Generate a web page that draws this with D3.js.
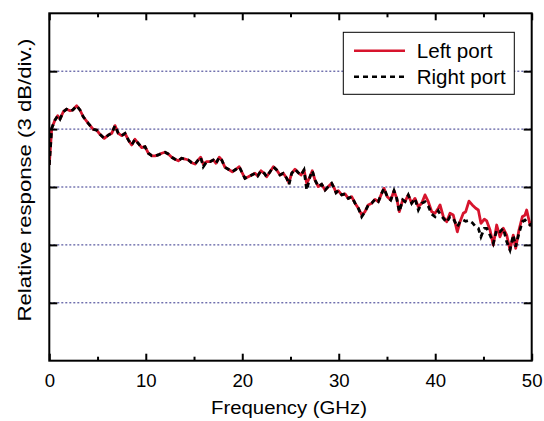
<!DOCTYPE html>
<html>
<head>
<meta charset="utf-8">
<script src="https://cdn.jsdelivr.net/npm/d3@7"></script>
<style>
  html, body { margin: 0; padding: 0; background: #fff; }
  svg { display: block; }
  text { font-family: "Liberation Sans", Arial, Helvetica, sans-serif; fill: #000; }
</style>
</head>
<body>
<svg id="chart" width="544" height="421"></svg>
<script>
// ---- data (frequency in GHz, response in dB) ----
const freq = [0.0,0.25,0.59,0.87,1.11,1.45,1.80,2.15,2.43,2.84,3.18,3.52,4.04,4.56,4.91,5.25,5.70,6.12,6.47,6.81,7.15,7.50,7.85,8.19,8.54,8.88,9.22,9.58,9.92,10.26,10.61,10.96,11.30,11.65,11.99,12.33,12.69,13.03,13.37,13.72,14.07,14.41,14.76,15.10,15.44,15.69,15.96,16.31,16.66,17.00,17.28,17.62,17.87,18.21,18.55,18.97,19.35,19.69,19.94,20.28,20.63,20.98,21.32,21.60,21.94,22.28,22.53,22.88,23.22,23.57,23.91,24.25,24.61,24.84,25.12,25.47,25.81,26.09,26.40,26.68,27.02,27.26,27.54,27.88,28.23,28.58,28.92,29.27,29.54,29.72,29.95,30.31,30.65,30.99,31.34,31.69,32.03,32.38,32.72,33.06,33.42,33.76,34.10,34.45,34.69,35.03,35.39,35.73,36.01,36.28,36.63,36.87,37.21,37.56,37.90,38.25,38.60,38.94,39.28,39.64,39.98,40.32,40.50,40.84,41.19,41.53,41.87,42.29,42.57,42.91,43.16,43.50,43.84,44.20,44.47,44.74,45.09,45.34,45.68,46.02,46.37,46.71,47.06,47.41,47.75,48.09,48.34,48.68,49.03,49.31,49.48,49.83,50.0];

const leftPort = [10.14,12.04,12.47,12.69,12.52,12.90,13.03,12.95,12.99,13.21,12.99,12.64,12.30,11.99,11.95,11.73,11.52,11.69,11.78,12.18,11.78,11.66,11.78,11.44,11.18,11.47,11.26,11.04,11.09,10.75,10.62,10.61,10.66,10.75,10.80,10.71,10.54,10.44,10.36,10.49,10.45,10.40,10.26,10.19,10.40,10.54,10.18,10.31,10.31,10.40,10.23,10.54,10.40,10.02,9.92,9.79,9.92,10.05,9.79,9.45,9.53,9.62,9.71,9.57,9.84,9.71,9.53,9.79,10.05,9.88,9.62,9.71,9.45,9.22,9.71,9.92,9.74,9.62,9.88,9.19,9.53,9.84,9.36,9.02,9.14,8.84,9.02,9.19,8.93,8.70,8.81,8.59,8.64,8.41,8.50,8.16,7.90,7.55,7.72,8.07,8.16,8.36,8.24,8.67,8.93,8.50,8.33,8.81,8.41,7.72,8.33,8.24,8.59,8.16,8.41,7.98,8.16,8.59,8.24,7.72,7.64,7.90,8.07,7.46,7.20,7.64,7.55,6.68,7.20,7.64,7.72,8.27,8.07,7.90,7.81,7.12,7.33,7.24,6.77,5.99,7.03,6.42,6.86,6.51,5.74,6.51,5.82,6.77,7.46,7.55,7.81,7.03,7.19];

const rightPort = [10.14,12.04,12.47,12.69,12.52,12.90,13.03,12.95,12.99,13.21,12.99,12.64,12.30,11.99,11.95,11.73,11.52,11.69,11.78,12.18,11.78,11.66,11.78,11.44,11.18,11.47,11.26,11.04,11.09,10.75,10.62,10.61,10.66,10.75,10.80,10.71,10.54,10.44,10.36,10.49,10.45,10.40,10.26,10.19,10.40,10.54,10.05,10.31,10.31,10.40,10.23,10.54,10.40,10.02,9.92,9.79,9.92,10.05,9.79,9.45,9.53,9.62,9.71,9.57,9.84,9.71,9.53,9.79,10.05,9.88,9.62,9.71,9.45,9.12,9.71,9.92,9.74,9.62,9.88,8.84,9.53,9.84,9.36,9.02,9.14,8.84,9.02,9.19,8.93,8.70,8.81,8.59,8.64,8.41,8.50,8.16,7.90,7.46,7.72,8.07,8.16,8.36,8.24,8.67,8.93,8.50,8.33,8.81,8.41,7.72,8.33,8.24,8.59,8.16,8.41,7.81,8.16,8.24,8.00,7.60,7.46,7.76,7.60,7.38,7.17,7.46,7.38,6.94,7.20,7.29,7.22,7.27,7.15,6.94,6.86,6.42,6.86,6.86,6.51,6.08,6.77,6.68,6.86,6.17,5.74,6.51,5.91,6.60,7.20,7.29,7.20,7.03,7.07];

const xTicks = [0, 10, 20, 30, 40, 50];
const xMinorTicks = [5, 15, 25, 35, 45];
const yGrid = [3, 6, 9, 12, 15];
const seriesNames = ["Left port", "Right port"];
const xTitle = "Frequency (GHz)";
const yTitle = "Relative response (3 dB/div.)";

// ---- layout ----
const svg = d3.select("#chart");
const L = 49.3, R = 531.7, T = 13.3, B = 360.7;
const x = d3.scaleLinear().domain([0, 50]).range([L, R]);
const y = d3.scaleLinear().domain([0, 18]).range([B, T]);

// grid
svg.append("g").selectAll("line").data(yGrid).join("line")
  .attr("x1", L).attr("x2", R)
  .attr("y1", d => y(d)).attr("y2", d => y(d))
  .attr("stroke", "#33338a").attr("stroke-width", 1)
  .attr("stroke-dasharray", "2,2");

// curves
const line = d3.line().x((d, i) => x(freq[i])).y(d => y(d));
svg.append("clipPath").attr("id", "clip").append("rect")
  .attr("x", L).attr("y", T).attr("width", R - L).attr("height", B - T);
svg.append("path").datum(leftPort).attr("d", line)
  .attr("fill", "none").attr("stroke", "#d7142d").attr("stroke-width", 2.8)
  .attr("stroke-linejoin", "round").attr("clip-path", "url(#clip)");
svg.append("path").datum(rightPort).attr("d", line)
  .attr("fill", "none").attr("stroke", "#000").attr("stroke-width", 2.8)
  .attr("stroke-dasharray", "5,4").attr("clip-path", "url(#clip)");

// axes (ticks pointing inward)
const axB = d3.axisBottom(x).tickValues(xTicks).tickSize(-7).tickFormat(d3.format("d")).tickPadding(13);
const axBm = d3.axisBottom(x).tickValues(xMinorTicks).tickSize(-4).tickFormat("");
const axT = d3.axisTop(x).tickValues(xTicks).tickSize(-7).tickFormat("");
const axTm = d3.axisTop(x).tickValues(xMinorTicks).tickSize(-4).tickFormat("");
const axL = d3.axisLeft(y).tickValues(yGrid).tickSize(-8).tickFormat("");
const axR = d3.axisRight(y).tickValues(yGrid).tickSize(-8).tickFormat("");

function styleAxis(g) {
  g.select(".domain").remove();
  g.selectAll(".tick line").attr("stroke", "#000").attr("stroke-width", 2);
  g.selectAll(".tick text").attr("font-size", "18.6px")
    .attr("font-family", "'Liberation Sans', Arial, sans-serif").attr("fill", "#000");
}
svg.append("g").attr("transform", `translate(0,${B})`).call(axB).call(styleAxis);
svg.append("g").attr("transform", `translate(0,${B})`).call(axBm).call(styleAxis);
svg.append("g").attr("transform", `translate(0,${T})`).call(axT).call(styleAxis);
svg.append("g").attr("transform", `translate(0,${T})`).call(axTm).call(styleAxis);
svg.append("g").attr("transform", `translate(${L},0)`).call(axL).call(styleAxis);
svg.append("g").attr("transform", `translate(${R},0)`).call(axR).call(styleAxis);

// frame
svg.append("rect").attr("x", L).attr("y", T).attr("width", R - L).attr("height", B - T)
  .attr("fill", "none").attr("stroke", "#000").attr("stroke-width", 2);

// axis titles
svg.append("text").attr("x", 289).attr("y", 413.5).attr("text-anchor", "middle")
  .attr("font-size", "18.8px").attr("textLength", 156).attr("lengthAdjust", "spacingAndGlyphs")
  .text(xTitle);
svg.append("text").attr("transform", "translate(31,180) rotate(-90)")
  .attr("text-anchor", "middle").attr("font-size", "19px")
  .attr("textLength", 283).attr("lengthAdjust", "spacingAndGlyphs")
  .text(yTitle);

// legend
const lg = svg.append("g");
lg.append("rect").attr("x", 343.3).attr("y", 32.3).attr("width", 171).attr("height", 62)
  .attr("fill", "#fff").attr("stroke", "#000").attr("stroke-width", 1);
const legendStyles = [
  { stroke: "#d7142d", dash: null },
  { stroke: "#000", dash: "5,4" }
];
seriesNames.forEach((name, i) => {
  const yy = 50.7 + i * 26;
  lg.append("line").attr("x1", 354).attr("x2", 405).attr("y1", yy).attr("y2", yy)
    .attr("stroke", legendStyles[i].stroke).attr("stroke-width", 2.6)
    .attr("stroke-dasharray", legendStyles[i].dash);
  lg.append("text").attr("x", 416.7).attr("y", yy + 7.3).attr("font-size", "20px")
    .attr("textLength", i === 0 ? 75.7 : 89).attr("lengthAdjust", "spacingAndGlyphs")
    .text(name);
});
</script>
</body>
</html>
